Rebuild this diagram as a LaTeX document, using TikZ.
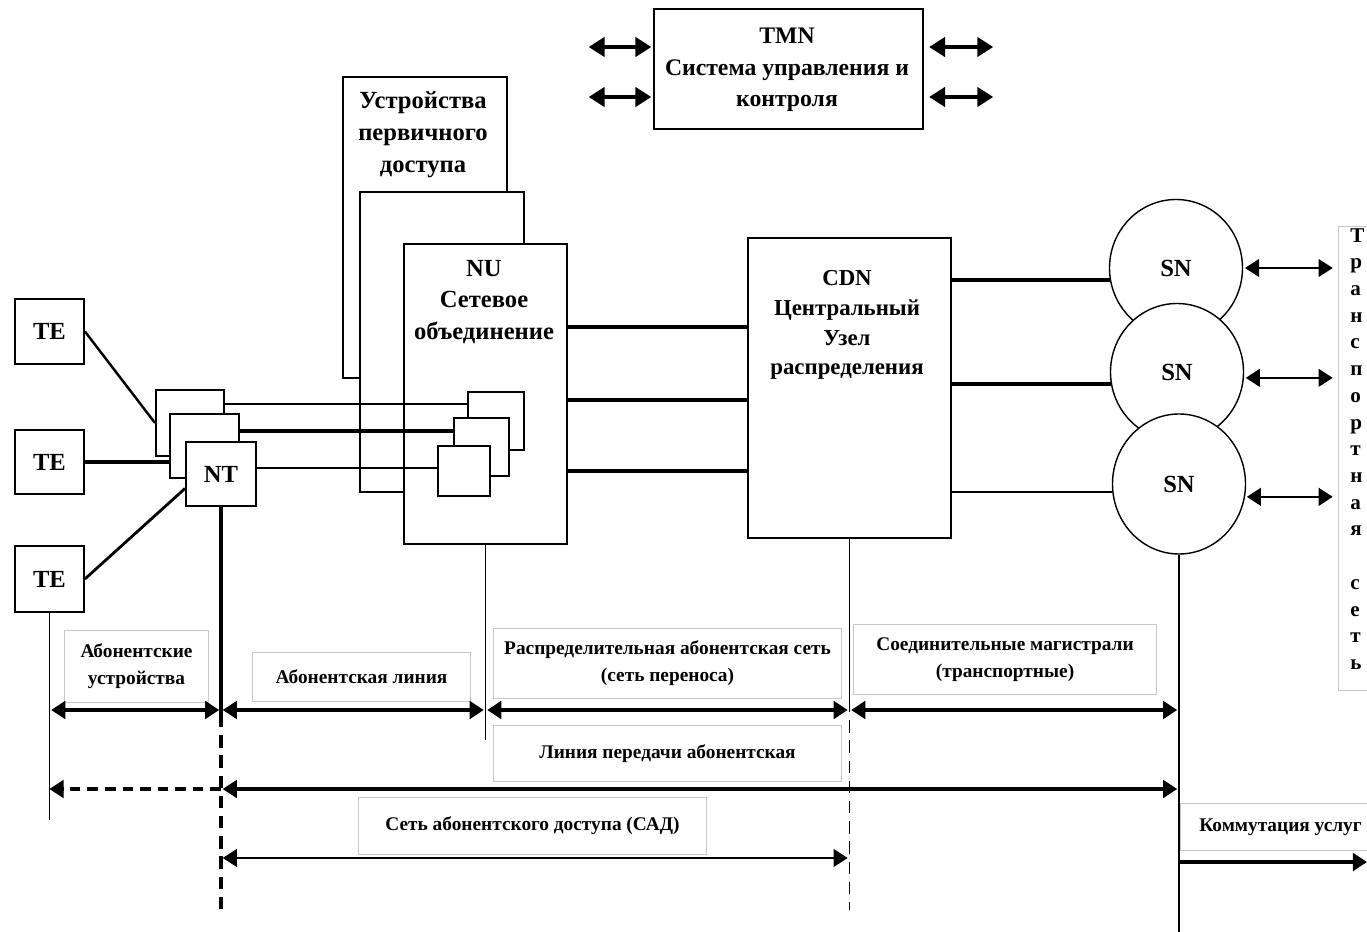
\documentclass[tikz,border=0pt]{standalone}
\usepackage{fontspec}
\setmainfont{Liberation Serif}
\usetikzlibrary{arrows.meta,shapes.geometric}

\newcommand{\pxu}{0.02cm}
\newcommand{\bigfont}{\bfseries\fontsize{14}{17.8}\selectfont}
\newcommand{\lblfont}{\bfseries\fontsize{11}{15.3}\selectfont}

\tikzset{
  unit/.style={draw, line width=1.1pt, fill=white, inner sep=0pt, anchor=north west},
  sq/.style={unit, font=\bigfont},
  sn/.style={draw, ellipse, line width=0.8pt, fill=white, inner sep=0pt,
    minimum width=133*\pxu, minimum height=137*\pxu, font=\bigfont},
  caption/.style={align=center, inner sep=0pt, font=\bigfont},
  lbl/.style={draw=black!22, line width=0.6pt, fill=white, anchor=north west,
    inner sep=0pt, align=center, font=\lblfont},
  heavy/.style={line width=2.1pt},
  light/.style={line width=1.1pt},
  span/.style={<->, line width=1.8pt, shorten <=1pt, shorten >=1pt},
  dashline/.style={line width=1.8pt, dash pattern=on 7pt off 4.5pt},
}

\begin{document}
\begin{tikzpicture}[x=\pxu, y=-\pxu, >={Triangle[length=8pt,width=10pt]}]
 \useasboundingbox[fill=white] (0,0) rectangle (1367,932);

 % management system
 \node[unit, minimum width=269*\pxu, minimum height=120*\pxu] (tmn) at (653,8) {};
 \node[caption, font=\bfseries\fontsize{13.5}{18}\selectfont] (tmntxt) at (787,70)
   {TMN\\Система управления и\\контроля};
 \draw[span, >={Triangle[length=9pt,width=11pt]}] (tmn.west |- 0,47) -- ++(-66,0);
 \draw[span, >={Triangle[length=9pt,width=11pt]}] (tmn.west |- 0,97) -- ++(-66,0);
 \draw[span, >={Triangle[length=9pt,width=11pt]}, shorten <=3pt] (tmn.east |- 0,47) -- ++(71,0);
 \draw[span, >={Triangle[length=9pt,width=11pt]}, shorten <=3pt] (tmn.east |- 0,97) -- ++(71,0);

 % access units
 \node[unit, minimum width=164*\pxu, minimum height=301*\pxu] (acc) at (342,76) {};
 \node[caption, font=\bfseries\fontsize{14}{18.2}\selectfont] (acctxt) at (423,135)
   {Устройства\\первичного\\доступа};
 \node[unit, minimum width=164*\pxu, minimum height=300*\pxu] (mid) at (359,191) {};
 \node[unit, minimum width=163*\pxu, minimum height=300*\pxu] (nu) at (403,243) {};
 \node[caption] (nutxt) at (484,302) {NU\\Сетевое\\объединение};

 % central node
 \node[unit, minimum width=203*\pxu, minimum height=300*\pxu] (cdn) at (747,237) {};
 \node[caption, font=\bfseries\fontsize{13}{17}\selectfont] (cdntxt) at (847,325)
   {CDN\\Центральный\\Узел\\распределения};

 % terminals and NT
 \node[sq, minimum width=69*\pxu, minimum height=65*\pxu] (te1) at (14,298) {TE};
 \node[sq, minimum width=69*\pxu, minimum height=64*\pxu] (te2) at (14,429) {TE};
 \node[sq, minimum width=69*\pxu, minimum height=66*\pxu] (te3) at (14,545) {TE};
 \node[unit, minimum width=68*\pxu, minimum height=66*\pxu] (nt3) at (155,389) {};
 \node[unit, minimum width=69*\pxu, minimum height=64*\pxu] (nt2) at (169,413) {};
 \node[sq, minimum width=70*\pxu, minimum height=64*\pxu] (nt1) at (185,441) {NT};

 \draw[light, line width=1.4pt] (te1.east) -- (nt3.west);
 \draw[heavy] (te2.east) -- (te2.east -| nt2.west);
 \draw[light, line width=1.6pt] (te3.east) -- (nt1.202);

 % ports inside NU
 \node[unit, minimum width=56*\pxu, minimum height=58*\pxu] (sq3) at (467,391) {};
 \node[unit, minimum width=55*\pxu, minimum height=58*\pxu] (sq2) at (453,417) {};
 \node[unit, minimum width=52*\pxu, minimum height=50*\pxu] (sq1) at (437,445) {};

 \draw[light] (nt3.29) -- (nt3.29 -| sq3.west);
 \draw[heavy] (nt2.23) -- (nt2.23 -| sq2.west);
 \draw[light] (nt1.10) -- (nt1.10 -| sq1.west);

 \draw[heavy] (nu.39) -- (nu.39 -| cdn.west);
 \draw[heavy] (nu.-4) -- (nu.-4 -| cdn.west);
 \draw[heavy] (nu.-43) -- (nu.-43 -| cdn.west);

 % service nodes
 \node[sn] (sn1) at (1176,268) {SN};
 \node[sn] (sn2) at (1177,372) {SN};
 \node[sn, minimum height=140*\pxu] (sn3) at (1179,484) {SN};

 \draw[heavy] (cdn.east |- sn1.190) -- (sn1.190);
 \draw[heavy] (cdn.east |- sn2.190) -- (sn2.190);
 \draw[light] (cdn.east |- sn3.187) -- (sn3.187);

 % transport network
 \node[lbl, minimum width=60*\pxu, minimum height=464*\pxu] (tnet) at (1338,226) {};
 \node[anchor=north west, inner sep=0pt, align=left,
   font=\bfseries\fontsize{12}{15.2}\selectfont] (tnettxt) at (1350,228)
   {Т\\р\\а\\н\\с\\п\\о\\р\\т\\н\\а\\я\\\strut\\с\\е\\т\\ь};

 \draw[span, line width=1.2pt, shorten >=3pt] (sn1.east) -- (tnet.west |- sn1.east);
 \draw[span, line width=1.2pt, shorten >=3pt] (sn2.-5) -- (tnet.west |- sn2.-5);
 \draw[span, line width=1.5pt, shorten >=3pt] (sn3.-11) -- (tnet.west |- sn3.-11);

 % reference lines
 \coordinate (teb) at (te3.south |- 0,820);
 \coordinate (ntm) at (nt1.south |- 0,715);
 \coordinate (ntb) at (nt1.south |- 0,912);
 \coordinate (nub) at (nu.south |- 0,740);
 \coordinate (cdnm) at (cdn.south |- 0,700);
 \coordinate (cdnb) at (cdn.south |- 0,910);
 \coordinate (snb) at (sn3.south |- 0,932);
 \coordinate (kend) at (1367,862);

 \draw[light] (te3.south) -- (teb);
 \draw[heavy, line width=1.8pt] (nt1.south) -- (ntm);
 \draw[dashline] (ntm) -- (ntb);
 \draw[light] (nu.south) -- (nub);
 \draw[light] (cdn.south) -- (cdnm);
 \draw[dashline, line width=1.1pt] (cdnm) -- (cdnb);
 \draw[light] (sn3.south) -- (snb);

 % segment labels
 \node[lbl, minimum width=144*\pxu, minimum height=72*\pxu] (l1) at (64,630) {Абонентские\\устройства};
 \node[lbl, minimum width=218*\pxu, minimum height=49*\pxu] (l2) at (252,652) {Абонентская линия};
 \node[lbl, minimum width=348*\pxu, minimum height=70*\pxu] (l3) at (493,628)
   {Распределительная абонентская сеть\\(сеть переноса)};
 \node[lbl, minimum width=303*\pxu, minimum height=70*\pxu] (l4) at (853,624)
   {Соединительные магистрали\\(транспортные)};
 \node[lbl, minimum width=348*\pxu, minimum height=56*\pxu] (l5) at (493,725) {Линия передачи абонентская};
 \node[lbl, minimum width=348*\pxu, minimum height=57*\pxu] (l6) at (358,797) {Сеть абонентского доступа (САД)};
 \node[lbl, minimum width=200*\pxu, minimum height=47*\pxu] (l7) at (1180,803) {Коммутация услуг};

 % segment arrows
 \draw[span] (teb |- 0,710) -- (ntb |- 0,710);
 \draw[span] (ntb |- 0,710) -- (nub |- 0,710);
 \draw[span] (nub |- 0,710) -- (cdnb |- 0,710);
 \draw[span] (cdnb |- 0,710) -- (snb |- 0,710);

 \draw[->, line width=1.8pt, dash pattern=on 6pt off 4pt] (ntb |- 0,789) -- (teb |- 0,789);
 \draw[span] (ntb |- 0,789) -- (snb |- 0,789);
 \draw[span, line width=1.2pt] (ntb |- 0,858) -- (cdnb |- 0,858);
 \draw[->, line width=1.8pt] (snb |- kend) -- (kend);
\end{tikzpicture}
\end{document}
